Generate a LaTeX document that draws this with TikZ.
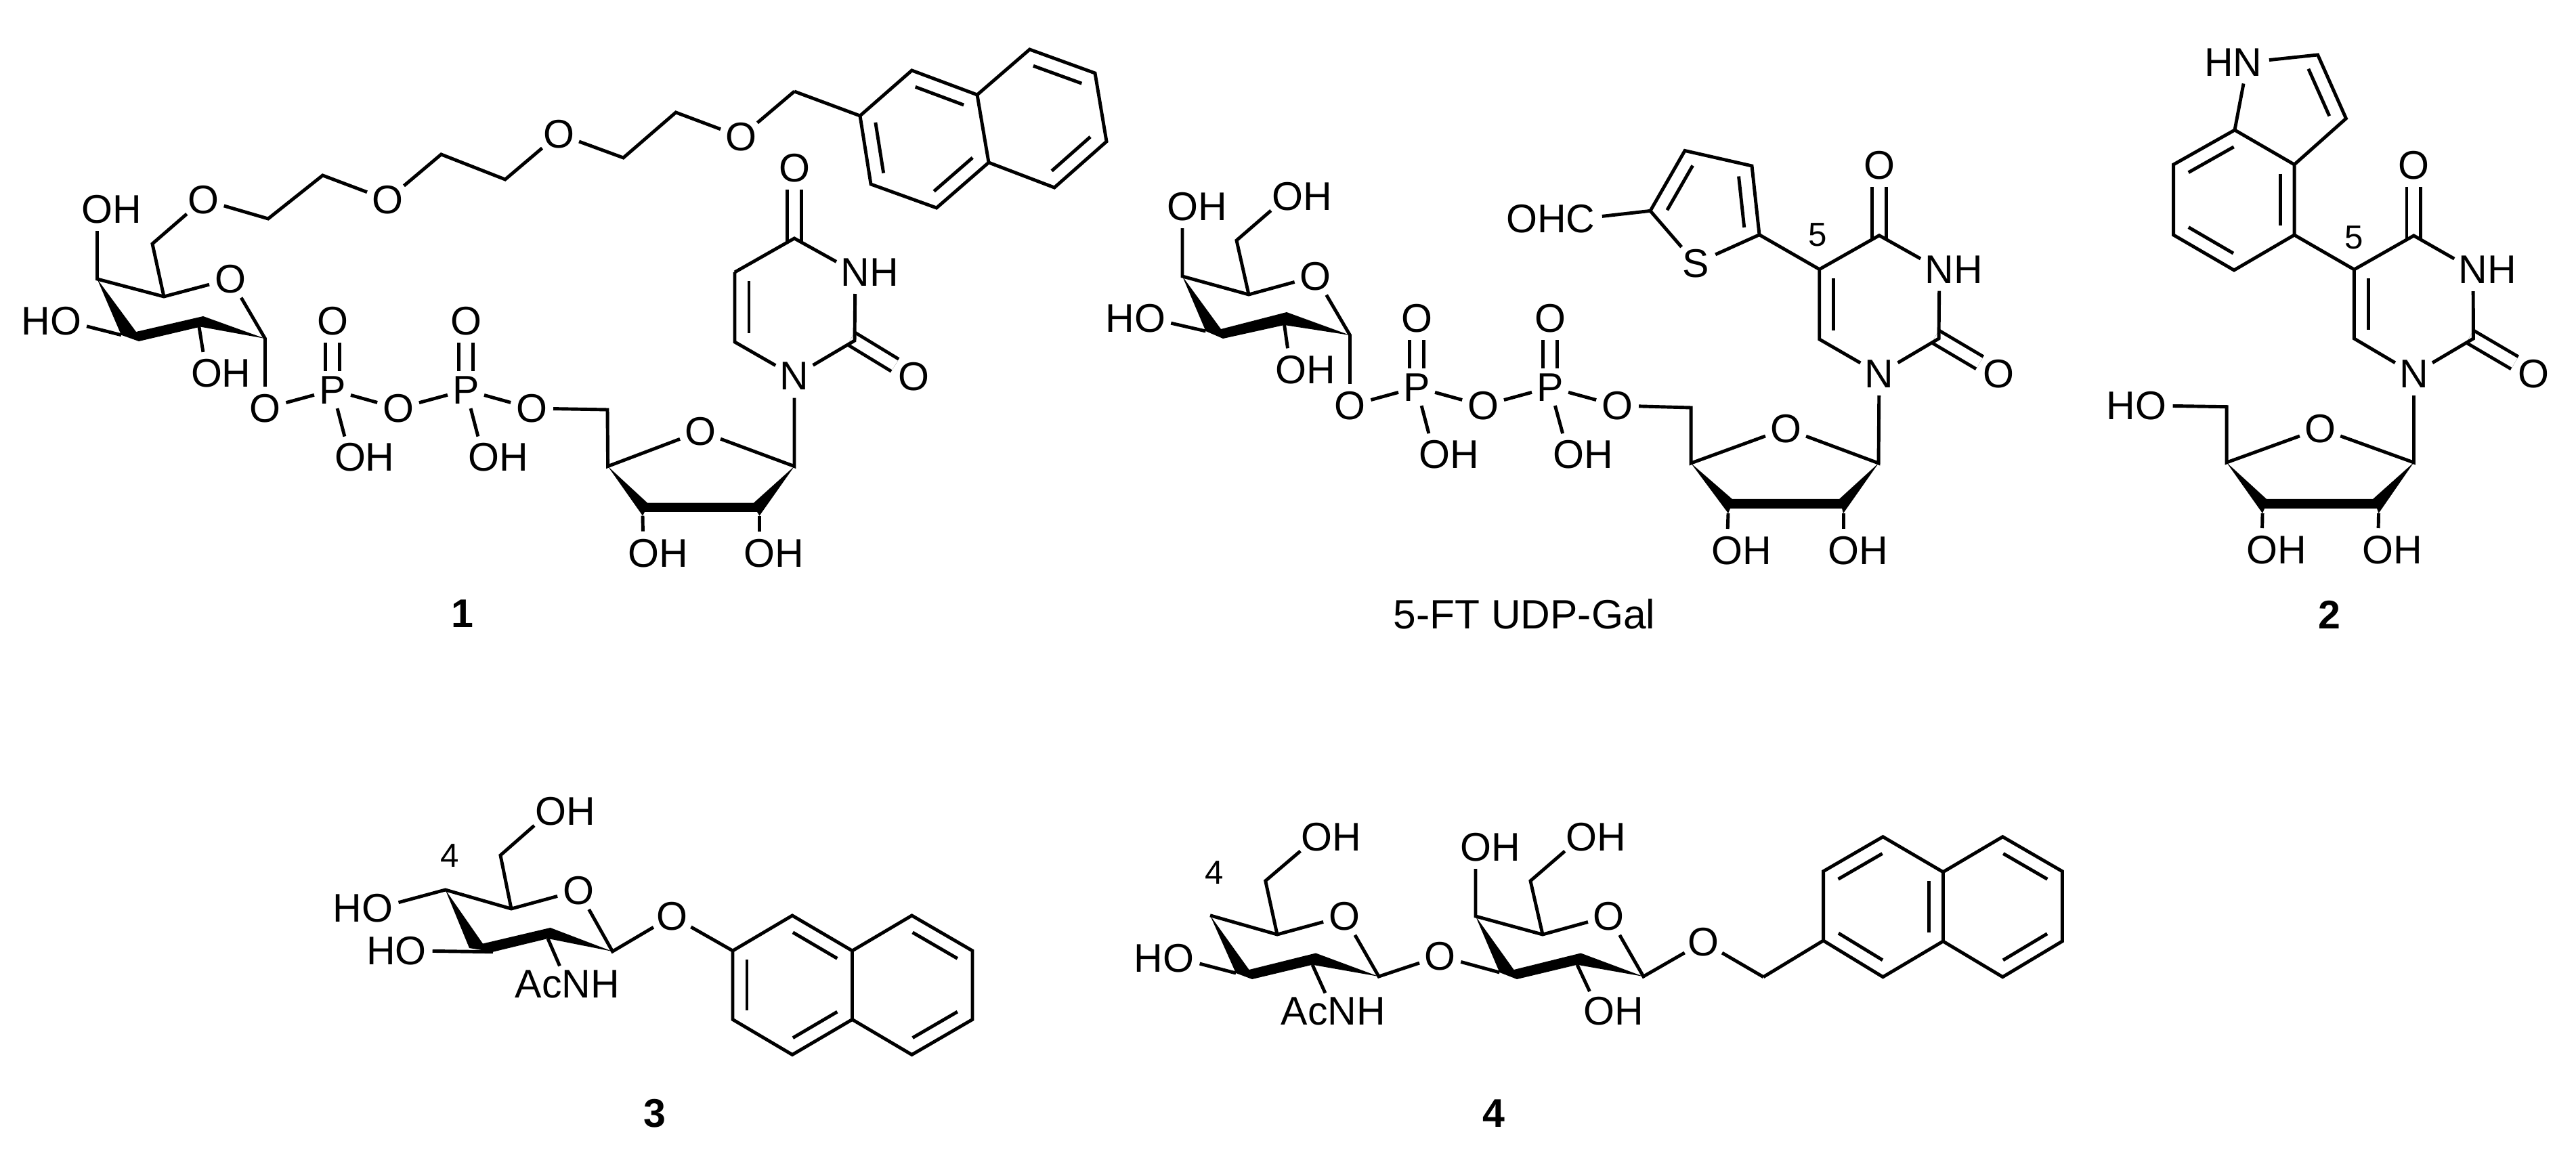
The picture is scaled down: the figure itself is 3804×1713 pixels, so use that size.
\documentclass[tikz,border=0pt]{standalone}
\usepackage{fontspec}
\setmainfont{Liberation Sans}
\usepackage{tikz}
\usetikzlibrary{positioning,calc}

\tikzset{
    bond/.style={line width=1.4pt},
    dblbond/.style={line width=1.4pt,double,double distance=0.16cm},
    ketone/.style={dblbond,shorten >=-0.06cm},
    atom/.style={circle,inner sep=0pt,outer sep=0pt,minimum size=0.64cm,font=\fontsize{16.8}{20}\selectfont},
    group/.style={rectangle,inner sep=0.06cm,outer sep=0pt,font=\fontsize{16.8}{20}\selectfont},
    phos/.style={atom,minimum size=0.56cm},
    locant/.style={inner sep=0pt,font=\fontsize{14}{17}\selectfont},
    cmpd/.style={inner sep=0pt,font=\fontsize{16.8}{20}\selectfont\bfseries},
    title/.style={inner sep=0pt,font=\fontsize{17.2}{20}\selectfont}
}

% inner line of a ring double bond, atoms given clockwise
\newcommand{\ringdbl}[2]{\draw[bond] ($(#1)!.13!(#2)!.21cm!-90:(#2)$) -- ($(#2)!.13!(#1)!.21cm!90:(#1)$);}

\begin{document}
\begin{tikzpicture}[x=0.01cm,y=-0.01cm]
    \useasboundingbox (0,0) rectangle (3804,1713);

    % compound 1: galactose and linker
    \coordinate (a1) at (391.5,500);
    \coordinate (a2) at (294,482.6);
    \coordinate (a3) at (179,494.7);
    \coordinate (a4) at (143.5,412);
    \coordinate (a5) at (242,438);
    \coordinate (a6) at (225,360);
    \coordinate (a7) at (396,323);
    \coordinate (a8) at (476.5,259);
    \coordinate (a9) at (651.5,228);
    \coordinate (a10) at (746,265);
    \coordinate (a11) at (920.5,233);
    \coordinate (a12) at (998,166);
    \coordinate (a13) at (1173,135);
    \node[atom] (aoh4) at (143.5,309) {O\rlap{H}};
    \node[atom] (aho3) at (97,474) {\llap{H}O};
    \node[atom] (aoh2) at (305,551.5) {O\rlap{H}};
    \node[atom] (aor) at (340,412) {O};
    \node[atom] (ao6) at (300,295) {O};
    \node[atom] (ao7) at (572,295) {O};
    \node[atom] (ao8) at (825,198) {O};
    \node[atom] (ao9) at (1094,202) {O};
    \node[atom] (ao1) at (391.5,603) {O};
    \node[phos] (ap1) at (491,576) {\makebox[0pt]{P}};
    \node[atom] (aop1) at (491,474) {O};
    \node[atom] (aoh5) at (517,675.5) {O\rlap{H}};
    \node[atom] (aob) at (588,603) {O};
    \node[phos] (ap2) at (688,576) {\makebox[0pt]{P}};
    \node[atom] (aop2) at (688,474) {O};
    \node[atom] (aoh6) at (714,675.5) {O\rlap{H}};
    \node[atom] (ao5p) at (785,603) {O};

    \fill (a4) -- (201,490) -- (300,467) -- (a1) -- (296,482.6) -- (205,504) -- (a3) -- cycle;
    \draw[bond] (aoh4) -- (a4) -- (a5) -- (aor) -- (a1) -- (ao1);
    \draw[bond] (a5) -- (a6) -- (ao6) -- (a7) -- (a8) -- (ao7) -- (a9) -- (a10) -- (ao8) -- (a11) -- (a12) -- (ao9) -- (a13);
    \draw[bond] (aho3) -- (a3);
    \draw[bond] (a2) -- (aoh2);
    \draw[dblbond] (aop1) -- (ap1);
    \draw[dblbond] (aop2) -- (ap2);
    \draw[bond] (ao1) -- (ap1) -- (aob) -- (ap2) -- (ao5p);
    \draw[bond] (ap1) -- (aoh5);
    \draw[bond] (ap2) -- (aoh6);

    % compound 1: naphthalene
    \coordinate (na) at (1270,171);
    \coordinate (nb) at (1346.5,104);
    \coordinate (nc) at (1443,140);
    \coordinate (nd) at (1520.5,73);
    \coordinate (ne) at (1617,108);
    \coordinate (nf) at (1634,209);
    \coordinate (ng) at (1557,277);
    \coordinate (nh) at (1460,240);
    \coordinate (ni) at (1383,307);
    \coordinate (nj) at (1286,272);
    \draw[bond] (a13) -- (na);
    \draw[bond] (na) -- (nb) -- (nc) -- (nd) -- (ne) -- (nf) -- (ng) -- (nh) -- (ni) -- (nj) -- cycle;
    \draw[bond] (nc) -- (nh);
    \ringdbl{nb}{nc}
    \ringdbl{nd}{ne}
    \ringdbl{nf}{ng}
    \ringdbl{nh}{ni}
    \ringdbl{nj}{na}

    % compound 1: nucleoside
    \coordinate (au4) at (1173,352);
    \coordinate (au5) at (1085,402);
    \coordinate (au6) at (1085,505);
    \coordinate (au2) at (1262,503);
    \coordinate (a1p) at (1173,688.6);
    \coordinate (a4p) at (897.6,688.6);
    \coordinate (a5p) at (897,605);
    \coordinate (a2p) at (1121.5,761.6);
    \coordinate (a3p) at (949,761.6);
    \node[atom] (aoc4) at (1173,248) {O};
    \node[atom] (anh) at (1263,402) {N\rlap{H}};
    \node[atom] (an) at (1173,555.6) {N};
    \node[atom] (aoc2) at (1349,556) {O};
    \node[atom] (aor2) at (1034,637) {O};
    \node[atom] (aoh3p) at (950,816.7) {O\rlap{H}};
    \node[atom] (aoh2p) at (1121.5,816.7) {O\rlap{H}};
    \draw[ketone] (aoc4) -- (au4);
    \draw[ketone] (aoc2) -- (au2);
    \draw[bond] (au5) -- (au4) -- (anh) -- (au2) -- (an) -- (au6) -- (au5);
    \ringdbl{au6}{au5}
    \draw[bond] (an) -- (a1p) -- (aor2) -- (a4p) -- (a5p) -- (ao5p);
    \fill (a4p) -- (956,742.6) -- (1113,742.6) -- (a1p) -- (a2p) -- (1118,756) -- (952,756) -- (a3p) -- cycle;
    \draw[bond] (a3p) -- (aoh3p);
    \draw[bond] (a2p) -- (aoh2p);
    \node[cmpd] (lab1) at (683,906) {1};

    % 5-FT UDP-Gal: galactose and phosphates
    \coordinate (b1) at (1993.5,495);
    \coordinate (b2) at (1896.6,480);
    \coordinate (b3) at (1780.5,489);
    \coordinate (b4) at (1746,408);
    \coordinate (b5) at (1844,435);
    \coordinate (b6) at (1826,355);
    \node[atom] (boh4) at (1746,305) {O\rlap{H}};
    \node[atom] (boh6) at (1901,290) {O\rlap{H}};
    \node[atom] (bor) at (1942.5,408) {O};
    \node[atom] (bho3) at (1698,470) {\llap{H}O};
    \node[atom] (boh2) at (1906,546) {O\rlap{H}};
    \node[atom] (bo1) at (1993.5,599) {O};
    \node[phos] (bp1) at (2092,572) {\makebox[0pt]{P}};
    \node[atom] (bop1) at (2092,470) {O};
    \node[atom] (boh7) at (2118,671) {O\rlap{H}};
    \node[atom] (bob) at (2190,599) {O};
    \node[phos] (bp2) at (2289,572) {\makebox[0pt]{P}};
    \node[atom] (bop2) at (2289,470) {O};
    \node[atom] (boh8) at (2316,671) {O\rlap{H}};
    \node[atom] (bo5p) at (2388,599) {O};
    \fill (b4) -- (1803,486) -- (1900,461) -- (b1) -- (1896.6,480) -- (1806,500) -- (b3) -- cycle;
    \draw[bond] (boh4) -- (b4) -- (b5) -- (bor) -- (b1) -- (bo1);
    \draw[bond] (b5) -- (b6) -- (boh6);
    \draw[bond] (bho3) -- (b3);
    \draw[bond] (b2) -- (boh2);
    \draw[dblbond] (bop1) -- (bp1);
    \draw[dblbond] (bop2) -- (bp2);
    \draw[bond] (bo1) -- (bp1) -- (bob) -- (bp2) -- (bo5p);
    \draw[bond] (bp1) -- (boh7);
    \draw[bond] (bp2) -- (boh8);

    % 5-FT UDP-Gal: thiophene and nucleoside
    \coordinate (bt2) at (2437,311.4);
    \coordinate (bt3) at (2488,222.5);
    \coordinate (bt4) at (2587,245);
    \coordinate (bt5) at (2598,346.7);
    \coordinate (bu2) at (2863,500);
    \coordinate (bu4) at (2775,347.7);
    \coordinate (bu5) at (2686.7,397.7);
    \coordinate (bu6) at (2686.7,501);
    \coordinate (b1p) at (2774,684);
    \coordinate (b4p) at (2497,684);
    \coordinate (b5p) at (2497,602);
    \coordinate (b2p) at (2722,758);
    \coordinate (b3p) at (2552,758);
    \node[atom] (bohc) at (2334,323) {\llap{OH}C};
    \node[atom] (bs) at (2504,389) {S};
    \node[atom] (boc4) at (2775,244) {O};
    \node[atom] (bnh) at (2864,397.7) {N\rlap{H}};
    \node[atom] (bn) at (2775,552) {N};
    \node[atom] (boc2) at (2951,552) {O};
    \node[atom] (bor2) at (2637,633) {O};
    \node[atom] (boh3p) at (2550,813) {O\rlap{H}};
    \node[atom] (boh2p) at (2722,813) {O\rlap{H}};
    \node[locant] (bfive) at (2684,346.7) {5};
    \draw[bond] (bohc) -- (bt2) -- (bt3) -- (bt4) -- (bt5) -- (bs) -- (bt2);
    \ringdbl{bt2}{bt3}
    \ringdbl{bt4}{bt5}
    \draw[ketone] (boc4) -- (bu4);
    \draw[ketone] (boc2) -- (bu2);
    \draw[bond] (bt5) -- (bu5) -- (bu4) -- (bnh) -- (bu2) -- (bn) -- (bu6) -- (bu5);
    \ringdbl{bu6}{bu5}
    \draw[bond] (bn) -- (b1p) -- (bor2) -- (b4p) -- (b5p) -- (bo5p);
    \fill (b4p) -- (2558,737) -- (2716,737) -- (b1p) -- (b2p) -- (2720,751) -- (2555,751) -- (b3p) -- cycle;
    \draw[bond] (b3p) -- (boh3p);
    \draw[bond] (b2p) -- (boh2p);
    \node[title] (labft) at (2251,907) {5-FT UDP-Gal};

    % compound 2
    \coordinate (c2) at (3422.6,81);
    \coordinate (c3) at (3464.4,175);
    \coordinate (c3a) at (3388,243);
    \coordinate (c4) at (3388,347);
    \coordinate (c5) at (3299,399);
    \coordinate (c6) at (3209.6,347);
    \coordinate (c7) at (3209.6,243);
    \coordinate (c7a) at (3300,192);
    \coordinate (cu2) at (3652.4,500);
    \coordinate (cu4) at (3564.4,348);
    \coordinate (cu5) at (3476.4,398);
    \coordinate (cu6) at (3476.4,500);
    \coordinate (c1p) at (3564.4,683);
    \coordinate (c4p) at (3288,683);
    \coordinate (c5p) at (3288,600.7);
    \coordinate (c2p) at (3512.5,758);
    \coordinate (c3p) at (3341,758);
    \node[atom] (chn) at (3319,92) {\llap{H}N};
    \node[atom] (coc4) at (3564.4,244) {O};
    \node[atom] (cnh) at (3652,398) {N\rlap{H}};
    \node[atom] (cn) at (3564.4,552) {N};
    \node[atom] (coc2) at (3741,552) {O};
    \node[atom] (cho) at (3176.5,599) {\llap{H}O};
    \node[atom] (cor) at (3426,633) {O};
    \node[atom] (coh3p) at (3340,812) {O\rlap{H}};
    \node[atom] (coh2p) at (3511.5,812) {O\rlap{H}};
    \node[locant] (cfive) at (3476.4,351) {5};
    \draw[bond] (c7a) -- (chn) -- (c2) -- (c3) -- (c3a) -- (c7a) -- (c7) -- (c6) -- (c5) -- (c4) -- (c3a);
    \ringdbl{c2}{c3}
    \ringdbl{c7}{c7a}
    \ringdbl{c3a}{c4}
    \ringdbl{c5}{c6}
    \draw[ketone] (coc4) -- (cu4);
    \draw[ketone] (coc2) -- (cu2);
    \draw[bond] (c4) -- (cu5) -- (cu4) -- (cnh) -- (cu2) -- (cn) -- (cu6) -- (cu5);
    \ringdbl{cu6}{cu5}
    \draw[bond] (cn) -- (c1p) -- (cor) -- (c4p) -- (c5p) -- (cho);
    \fill (c4p) -- (3347,737) -- (3504,737) -- (c1p) -- (c2p) -- (3510,751) -- (3344,751) -- (c3p) -- cycle;
    \draw[bond] (c3p) -- (coh3p);
    \draw[bond] (c2p) -- (coh2p);
    \node[cmpd] (lab2) at (3439.4,907.7) {2};

    % compound 3
    \coordinate (d1) at (904.5,1405);
    \coordinate (d2) at (809,1386);
    \coordinate (d3) at (728,1405.7);
    \coordinate (d4) at (657.7,1314);
    \coordinate (d5) at (755,1342);
    \coordinate (d6) at (739,1263);
    \node[atom] (doh6) at (813,1198) {O\rlap{H}};
    \node[atom] (dor) at (854,1315) {O};
    \node[atom] (dho4) at (557.6,1341) {\llap{H}O};
    \node[atom] (dho3) at (606.7,1404) {\llap{H}O};
    \node[group] (dnh) at (838,1453) {AcNH};
    \node[atom] (do1) at (992.5,1353) {O};
    \node[locant] (dfour) at (664,1264) {4};
    \fill (d4) -- (713,1393.5) -- (812.7,1370) -- (d1) -- (d2) -- (d3) -- (693,1400) -- cycle;
    \draw[bond] (dho4) -- (d4) -- (d5) -- (dor) -- (d1) -- (do1);
    \draw[bond] (d5) -- (d6) -- (doh6);
    \draw[bond] (dho3) -- (d3);
    \draw[bond] (d2) -- (dnh);
    \coordinate (da) at (1082,1404);
    \coordinate (db) at (1170,1352);
    \coordinate (dc) at (1258.5,1404);
    \coordinate (dd) at (1346.5,1352);
    \coordinate (de) at (1436,1404);
    \coordinate (df) at (1436,1505.5);
    \coordinate (dg) at (1346.5,1557.5);
    \coordinate (dh) at (1258.5,1505.5);
    \coordinate (di) at (1170,1557.5);
    \coordinate (dj) at (1082,1505.5);
    \draw[bond] (do1) -- (da);
    \draw[bond] (da) -- (db) -- (dc) -- (dd) -- (de) -- (df) -- (dg) -- (dh) -- (di) -- (dj) -- cycle;
    \draw[bond] (dc) -- (dh);
    \ringdbl{db}{dc}
    \ringdbl{dd}{de}
    \ringdbl{df}{dg}
    \ringdbl{dh}{di}
    \ringdbl{dj}{da}
    \node[cmpd] (lab3) at (967,1643.7) {3};

    % compound 4
    \coordinate (e1) at (2036,1442);
    \coordinate (e2) at (1938,1424.7);
    \coordinate (e3) at (1825,1437);
    \coordinate (e4) at (1787,1351.8);
    \coordinate (e5) at (1886,1380);
    \coordinate (e6) at (1868.7,1300.8);
    \coordinate (f1) at (2426.8,1442);
    \coordinate (f2) at (2329,1424.7);
    \coordinate (f3) at (2214.4,1436);
    \coordinate (f4) at (2179,1353);
    \coordinate (f5) at (2278,1380);
    \coordinate (f6) at (2260,1300.8);
    \coordinate (fch) at (2604,1442.7);
    \node[atom] (eoh6) at (1944.6,1236) {O\rlap{H}};
    \node[atom] (eor) at (1985,1353) {O};
    \node[atom] (eho4) at (1740.6,1415) {\llap{H}O};
    \node[group] (enh) at (1969,1493) {AcNH};
    \node[atom] (eob) at (2126.4,1412) {O};
    \node[atom] (foh4) at (2179,1251) {O\rlap{H}};
    \node[atom] (foh6) at (2335,1236) {O\rlap{H}};
    \node[atom] (for) at (2375.8,1353) {O};
    \node[atom] (foh2) at (2361,1493) {O\rlap{H}};
    \node[atom] (fo1) at (2515.4,1391) {O};
    \node[locant] (efour) at (1793.5,1289) {4};
    \fill (e4) -- (1844.5,1432) -- (1943,1407.5) -- (e1) -- (e2) -- (1849,1446) -- (e3) -- cycle;
    \fill (f4) -- (2235.5,1432) -- (2334.3,1407.5) -- (f1) -- (f2) -- (2240,1446) -- (f3) -- cycle;
    \draw[bond] (e4) -- (e5) -- (eor) -- (e1) -- (eob) -- (f3);
    \draw[bond] (e5) -- (e6) -- (eoh6);
    \draw[bond] (eho4) -- (e3);
    \draw[bond] (e2) -- (enh);
    \draw[bond] (foh4) -- (f4) -- (f5) -- (for) -- (f1) -- (fo1) -- (fch);
    \draw[bond] (f5) -- (f6) -- (foh6);
    \draw[bond] (f2) -- (foh2);
    \coordinate (ea) at (2692.5,1389);
    \coordinate (eb) at (2692.5,1286.7);
    \coordinate (ec) at (2780.5,1235.7);
    \coordinate (ed) at (2869.3,1287.7);
    \coordinate (ee) at (2957.3,1235.7);
    \coordinate (ef) at (3045.3,1286.7);
    \coordinate (eg) at (3045.3,1390);
    \coordinate (eh) at (2957.3,1442.7);
    \coordinate (ei) at (2869.3,1390);
    \coordinate (ej) at (2780.5,1442.7);
    \draw[bond] (fch) -- (ea);
    \draw[bond] (ea) -- (eb) -- (ec) -- (ed) -- (ee) -- (ef) -- (eg) -- (eh) -- (ei) -- (ej) -- cycle;
    \draw[bond] (ed) -- (ei);
    \ringdbl{eb}{ec}
    \ringdbl{ed}{ei}
    \ringdbl{ee}{ef}
    \ringdbl{eg}{eh}
    \ringdbl{ej}{ea}
    \node[cmpd] (lab4) at (2206,1643.7) {4};
\end{tikzpicture}
\end{document}
